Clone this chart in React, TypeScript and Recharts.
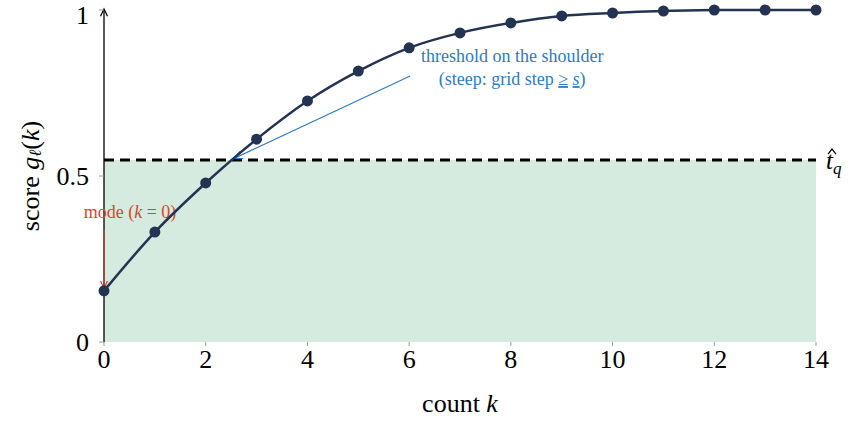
import React from 'react';
import {
  ComposedChart,
  Line,
  XAxis,
  YAxis,
  ReferenceArea,
  ReferenceLine,
} from 'recharts';

// counts k and score values g(k)
const counts = [0, 1, 2, 3, 4, 5, 6, 7, 8, 9, 10, 11, 12, 13, 14];
const scores = [0.154, 0.331, 0.479, 0.611, 0.726, 0.816, 0.886, 0.931, 0.961, 0.982, 0.991, 0.997, 1.0, 1.0, 1.0];

const xTicks = [0, 2, 4, 6, 8, 10, 12, 14];
const yTicks = [0, 0.5, 1];
const threshold = 0.548;

// annotation anchors (data coords)
const shoulderArrow = [{ x: 6.02, y: 0.801 }, { x: 2.56, y: 0.553 }];
const modeArrow = [{ x: 0, y: 0.337 }, { x: 0, y: 0.162 }];
const yAxisArrow = [{ x: 0, y: 0 }, { x: 0, y: 1 }];

const NAVY = '#253352';
const BLUE = '#2e7bc4';
const RED = '#d4472f';
const GREEN = '#d5ebdf';
const SERIF = '"Liberation Serif", "Times New Roman", serif';

const data = counts.map((k, i) => ({ k, g: scores[i] }));

const arrowHead = (x1: number, y1: number, x2: number, y2: number, color: string, size: number) => {
  const a = Math.atan2(y2 - y1, x2 - x1);
  const w = 0.45;
  const p1 = `${x2 - size * Math.cos(a - w)},${y2 - size * Math.sin(a - w)}`;
  const p2 = `${x2 - size * Math.cos(a + w)},${y2 - size * Math.sin(a + w)}`;
  return <polyline points={`${p1} ${x2},${y2} ${p2}`} fill="none" stroke={color} strokeWidth={1.2} />;
};

// eslint-disable-next-line @typescript-eslint/no-explicit-any
const ShoulderShape = (p: any) => (
  <g>
    <line x1={p.x1} y1={p.y1} x2={p.x2} y2={p.y2} stroke={BLUE} strokeWidth={1.2} />
    {arrowHead(p.x1, p.y1, p.x2, p.y2, BLUE, 9)}
    <text x={p.x1 + 102} y={p.y1 - 14} textAnchor="middle" fontFamily={SERIF} fontSize={18} fill={BLUE}>
      threshold on the shoulder
    </text>
    <text x={p.x1 + 102} y={p.y1 + 9} textAnchor="middle" fontFamily={SERIF} fontSize={18} fill={BLUE}>
      (steep: grid step <tspan textDecoration="underline">≥</tspan> <tspan fontStyle="italic" textDecoration="underline">s</tspan>)
    </text>
  </g>
);

// eslint-disable-next-line @typescript-eslint/no-explicit-any
const ModeShape = (p: any) => (
  <g>
    <line x1={p.x1} y1={p.y1} x2={p.x2} y2={p.y2} stroke={RED} strokeWidth={1.2} />
    {arrowHead(p.x1, p.y1, p.x2, p.y2, RED, 8)}
    <text x={p.x1 + 26} y={p.y1 - 12} textAnchor="middle" fontFamily={SERIF} fontSize={18} fill={RED}>
      mode (<tspan fontStyle="italic">k</tspan> = 0)
    </text>
  </g>
);

// eslint-disable-next-line @typescript-eslint/no-explicit-any
const AxisArrowShape = (p: any) => (
  <g>
    <line x1={p.x1} y1={p.y1} x2={p.x2} y2={p.y2} stroke="#000" strokeWidth={1.3} />
    {arrowHead(p.x1, p.y1, p.x2, p.y2 - 1, '#000', 8)}
  </g>
);

// eslint-disable-next-line @typescript-eslint/no-explicit-any
const ThresholdLabel = (p: any) => {
  const vb = p.viewBox || {};
  const x = vb.x + vb.width + 10;
  const y = vb.y;
  return (
    <g fontFamily={SERIF} fill="#000">
      <polyline points={`${x + 2},${y - 6} ${x + 6},${y - 11} ${x + 10},${y - 6}`} fill="none" stroke="#000" strokeWidth={1.2} />
      <text x={x} y={y + 9} fontSize={25} fontStyle="italic">
        t<tspan fontSize={17} dy={5}>q</tspan>
      </text>
    </g>
  );
};

// eslint-disable-next-line @typescript-eslint/no-explicit-any
const YLabel = (p: any) => {
  const vb = p.viewBox || {};
  const cx = 30;
  const cy = vb.y + vb.height / 2;
  return (
    <text x={cx} y={cy} transform={`rotate(-90 ${cx} ${cy})`} textAnchor="middle" dominantBaseline="central"
      fontFamily={SERIF} fontSize={26} fill="#000">
      score <tspan fontStyle="italic">g</tspan>
      <tspan fontStyle="italic" fontSize={17} dy={5}>ℓ</tspan>
      <tspan dy={-5}>(</tspan><tspan fontStyle="italic">k</tspan>)
    </text>
  );
};

// eslint-disable-next-line @typescript-eslint/no-explicit-any
const XLabel = (p: any) => {
  const vb = p.viewBox || {};
  return (
    <text x={vb.x + vb.width / 2} y={412} textAnchor="middle" fontFamily={SERIF} fontSize={26} fill="#000">
      count <tspan fontStyle="italic">k</tspan>
    </text>
  );
};

const App: React.FC = () => (
  <div style={{ position: 'absolute', left: 0, top: 0, width: 849, height: 421, background: '#fff' }}>
    <ComposedChart width={849} height={421} data={data} margin={{ top: 10, right: 33, bottom: 0, left: 0 }}>
      <ReferenceArea x1={0} x2={14} y1={0} y2={threshold} fill={GREEN} fillOpacity={1} stroke="none" />
      <XAxis
        dataKey="k"
        type="number"
        domain={[0, 14]}
        ticks={xTicks}
        axisLine={false}
        tickLine={{ stroke: '#999', strokeWidth: 1 }}
        tickSize={4}
        tickMargin={4}
        height={79}
        tick={{ fontFamily: SERIF, fontSize: 26, fill: '#000' }}
        label={<XLabel />}
      />
      <YAxis
        type="number"
        domain={[0, 1]}
        ticks={yTicks}
        width={104}
        axisLine={false}
        tickLine={{ stroke: '#999', strokeWidth: 1 }}
        tickSize={5}
        tickMargin={10}
        tick={{ fontFamily: SERIF, fontSize: 26, fill: '#000' }}
        label={<YLabel />}
      />
      <ReferenceLine segment={yAxisArrow} shape={<AxisArrowShape />} ifOverflow="visible" />
      <ReferenceLine y={threshold} stroke="#000" strokeWidth={3} strokeDasharray="10 6" label={<ThresholdLabel />} />
      <ReferenceLine segment={shoulderArrow} shape={<ShoulderShape />} ifOverflow="visible" />
      <ReferenceLine segment={modeArrow} shape={<ModeShape />} ifOverflow="visible" />
      <Line
        dataKey="g"
        type="monotone"
        stroke={NAVY}
        strokeWidth={2.5}
        dot={{ r: 5.5, fill: NAVY, stroke: NAVY, strokeWidth: 0 }}
        isAnimationActive={false}
      />
    </ComposedChart>
  </div>
);

export default App;
